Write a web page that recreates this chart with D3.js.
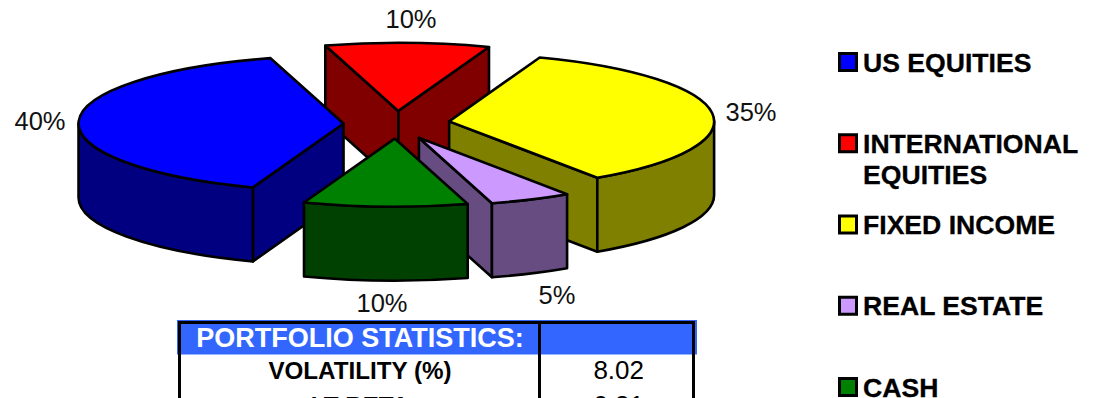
<!DOCTYPE html>
<html><head><meta charset="utf-8">
<script src="https://cdn.jsdelivr.net/npm/d3@7"></script>
<style>
html,body{margin:0;padding:0;background:#fff;overflow:hidden}
svg{display:block}
text{font-family:"Liberation Sans",Arial,sans-serif}
</style></head><body>
<svg id="c" width="1094" height="398"></svg>
<script>
const categories = ["US EQUITIES","INTERNATIONAL EQUITIES","FIXED INCOME","REAL ESTATE","CASH"];
const shares = [40,10,35,5,10];
const topColors = ["#0000ff","#ff0000","#ffff00","#cc99ff","#008000"];
const sideColors = ["#000080","#800000","#808000","#664c80","#004000"];
const statLabels = ["VOLATILITY (%)","LT BETA"];
const statValues = ["8.02","0.81"];
const tableTitle = "PORTFOLIO STATISTICS:";

const svg = d3.select("#c");
const cx=396.5, cy=125, rx=265, ry=68, depth=74, explode=0.2;
const nudgeY=[-1,-0.5,-2,0.5,0];
const rad = d=>d*Math.PI/180;
const TAU=2*Math.PI;
const pie = d3.pie().sort(null).startAngle(rad(200)).endAngle(rad(560));
const arcs = pie(shares);
// angle measured clockwise from top
const pt=(o,a,dy=0)=>[o[0]+rx*Math.sin(a), o[1]-ry*Math.cos(a)+dy];
arcs.forEach((d,i)=>{const m=(d.startAngle+d.endAngle)/2;
  d.apex=[cx+explode*rx*Math.sin(m), cy-explode*ry*Math.cos(m)+nudgeY[i]];});
const arcSeg=(p,large)=>`A${rx} ${ry} 0 ${large?1:0} 1 ${p[0]} ${p[1]}`;
const arcRev=(p,large)=>`A${rx} ${ry} 0 ${large?1:0} 0 ${p[0]} ${p[1]}`;
function topPath(d){const a=pt(d.apex,d.startAngle),b=pt(d.apex,d.endAngle);
  return `M${d.apex}L${a}${arcSeg(b,d.endAngle-d.startAngle>Math.PI)}Z`;}
function radialFace(o,a){const e=pt(o,a);
  return `M${o}L${e}L${e[0]},${e[1]+depth}L${o[0]},${o[1]+depth}Z`;}
function outerFace(o,a0,a1){const s=pt(o,a0),e=pt(o,a1),e2=pt(o,a1,depth),s2=pt(o,a0,depth);
  return `M${s}${arcSeg(e,false)}L${e2}${arcRev(s2,false)}Z`;}
const front0=rad(90), front1=rad(270);
// walls that face the viewer: cut edges by side of the pie, outer rim on the front half
function faces(d){
  const out=[];
  const s=d.startAngle%TAU, e=s+(d.endAngle-d.startAngle);
  if(Math.sin(s)<0) out.push(radialFace(d.apex,s));
  if(Math.sin(e)>0) out.push(radialFace(d.apex,e));
  const lo=Math.max(s,front0), hi=Math.min(e,front1);
  if(hi>lo) out.push(outerFace(d.apex,lo,hi));
  return out;
}
const order=[1,0,2,3,4];
const g=svg.append("g").attr("stroke","#000").attr("stroke-width",2.6).attr("stroke-linejoin","round");
order.forEach(i=>{const d=arcs[i];
  const sg=g.append("g");
  sg.selectAll("path.s").data(faces(d)).join("path").attr("class","s").attr("d",p=>p).attr("fill",sideColors[i]);
  sg.append("path").attr("d",topPath(d)).attr("fill",topColors[i]);
});
// data labels
const labelAt=[[40,130],[411,28],[751,121],[557,304],[382,312]];
svg.append("g").selectAll("text").data(shares).join("text")
  .attr("x",(v,i)=>labelAt[i][0]).attr("y",(v,i)=>labelAt[i][1]).attr("text-anchor","middle")
  .attr("font-size",25.5).attr("fill","#111").text(v=>v+"%");
// legend
const legY=d3.scalePoint().domain(categories).range([62,387]);
const leg=svg.append("g").selectAll("g").data(categories).join("g")
  .attr("transform",c=>`translate(840,${legY(c)})`);
leg.append("rect").attr("x",-0.5).attr("y",-8.5).attr("width",17).attr("height",17)
  .attr("fill",(c,i)=>topColors[i]).attr("stroke","#000").attr("stroke-width",3);
const legText=(sel,y,s)=>sel.append("text").attr("x",23).attr("y",y).attr("font-size",26.6).attr("font-weight","bold")
  .attr("fill","#000").attr("stroke","#000").attr("stroke-width",0.3).text(s);
leg.each(function(c){
  const s=d3.select(this);
  if(c==="INTERNATIONAL EQUITIES"){legText(s,9.5,"INTERNATIONAL");legText(s,40.5,"EQUITIES");}
  else legText(s,9.5,c);
});
// table
const T=svg.append("g");
T.append("rect").attr("x",177).attr("y",320).attr("width",520).attr("height",34.5).attr("fill","#3366ff");
T.append("text").attr("x",360).attr("y",347).attr("text-anchor","middle").attr("font-size",27).attr("font-weight","bold").attr("fill","#fff").text(tableTitle);
statLabels.forEach((l,i)=>{const y=379+i*35;
  T.append("text").attr("x",360).attr("y",y).attr("text-anchor","middle").attr("font-size",24.2).attr("font-weight","bold").text(l);
  T.append("text").attr("x",618.7).attr("y",y).attr("text-anchor","middle").attr("font-size",26).text(statValues[i]);
});
[[179.5,321,179.5,398],[539.5,321,539.5,398],[693.5,321,693.5,398],[178,322.5,695,322.5]].forEach(a=>
  T.append("line").attr("x1",a[0]).attr("y1",a[1]).attr("x2",a[2]).attr("y2",a[3]).attr("stroke","#000").attr("stroke-width",3));
</script></body></html>
